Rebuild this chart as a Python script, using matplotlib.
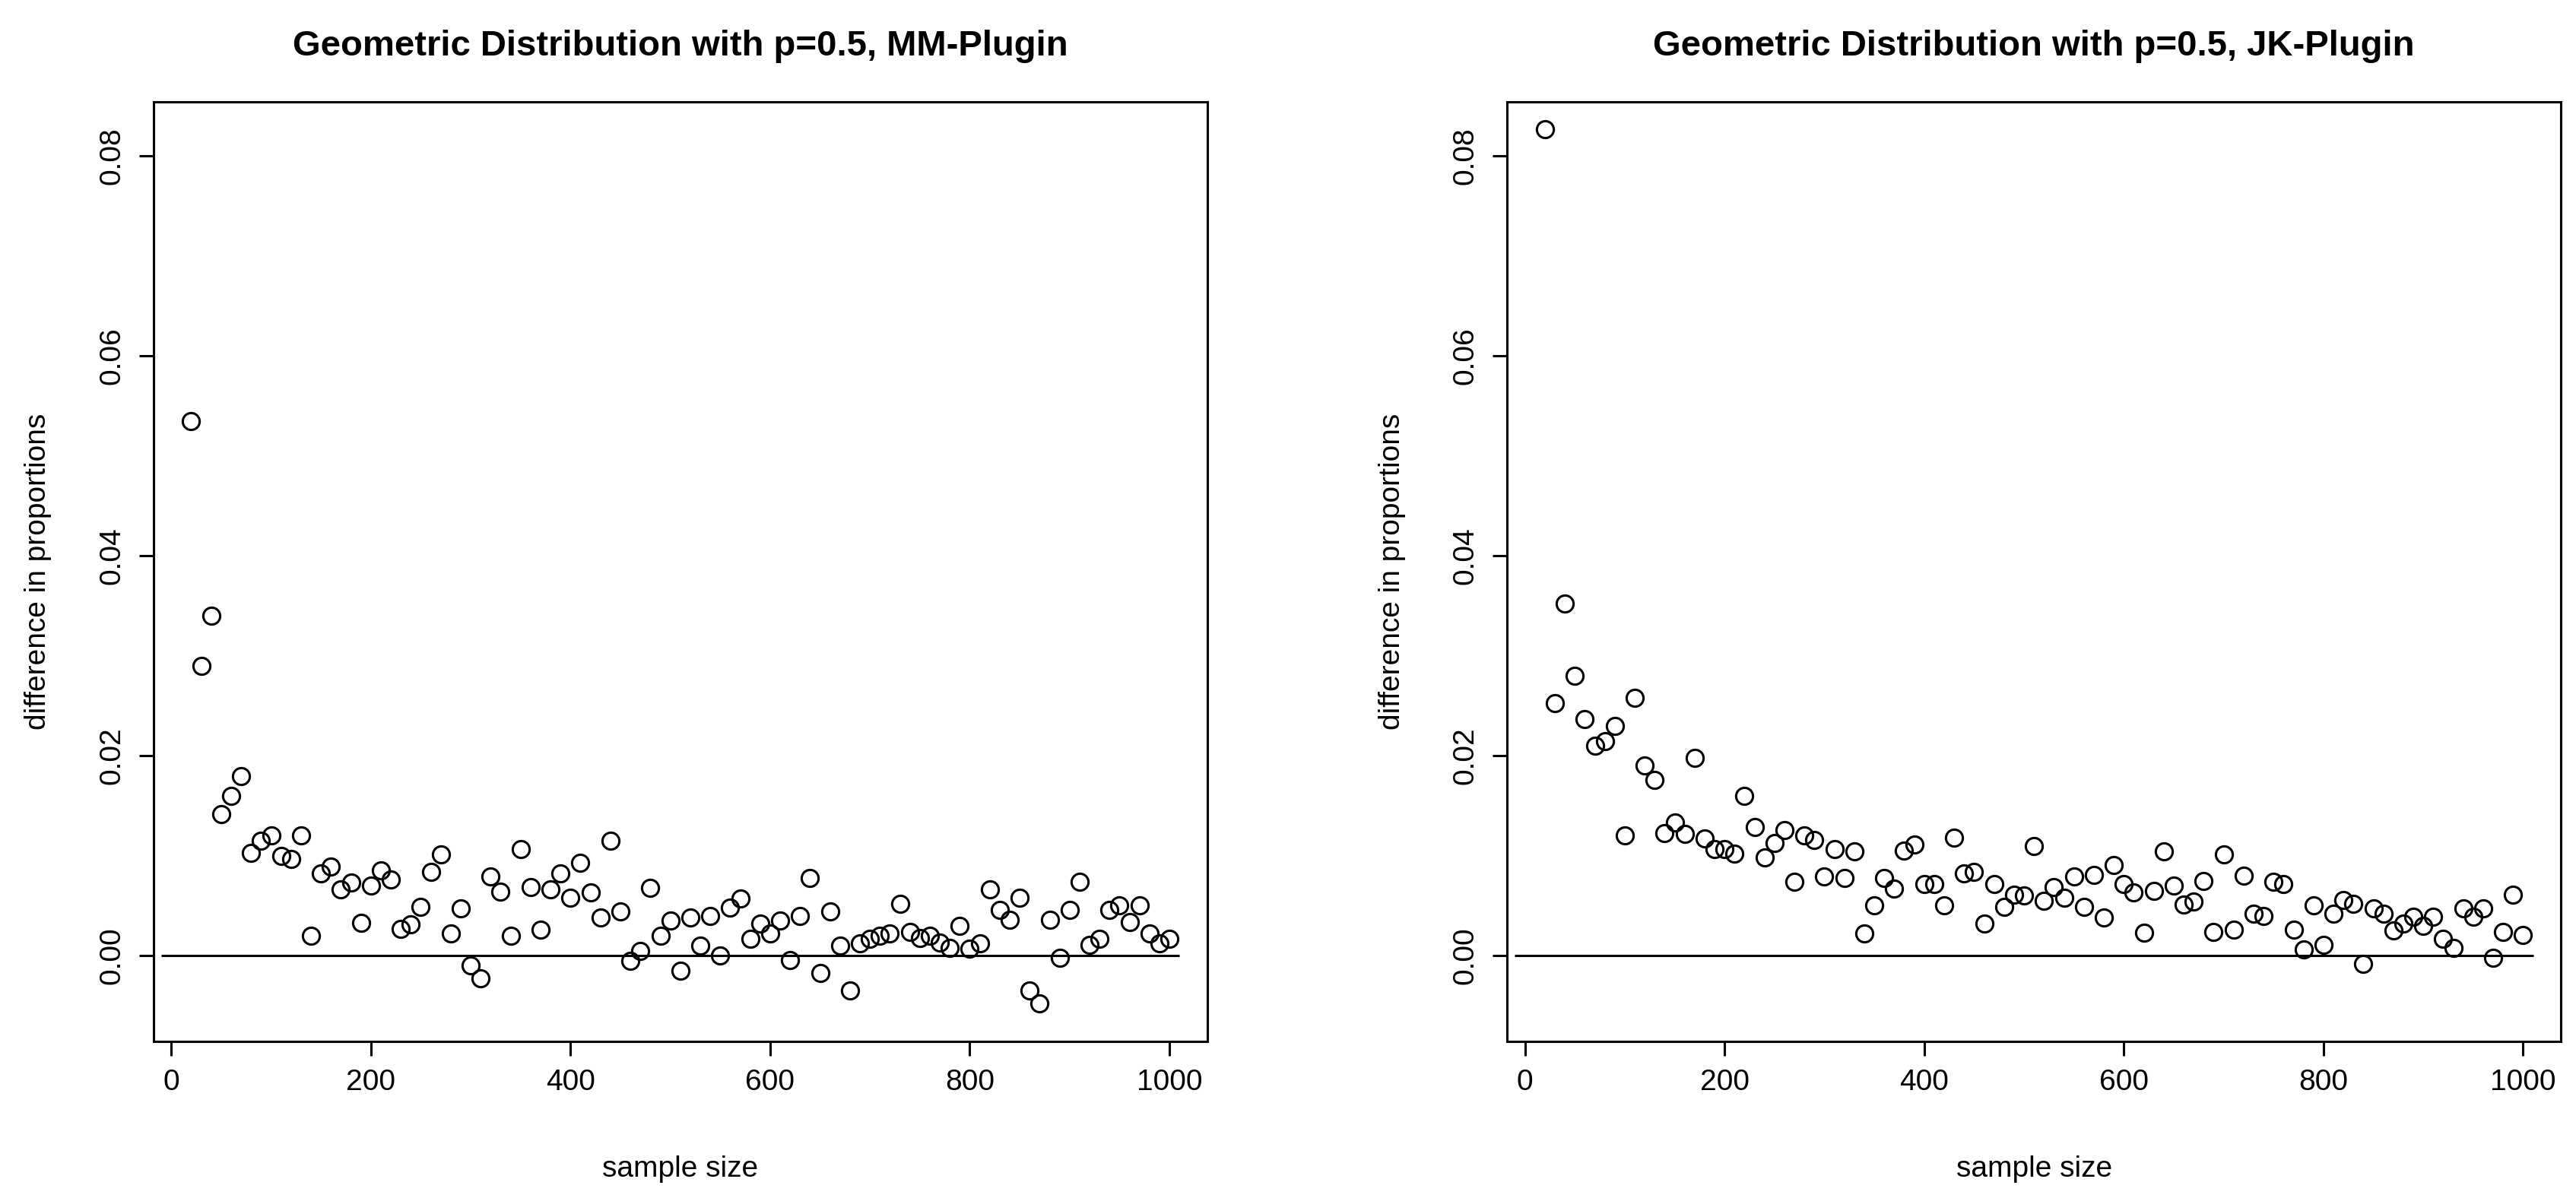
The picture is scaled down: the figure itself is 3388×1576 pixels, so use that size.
import numpy as np
import matplotlib.pyplot as plt

plt.rcParams['font.family'] = ['Liberation Sans', 'DejaVu Sans']

sample_size = list(range(20, 1001, 10))

mm_diff = [0.0535, 0.029, 0.034, 0.0142, 0.016, 0.018, 0.0103, 0.0115, 0.012, 0.0100,
           0.0097, 0.0120, 0.0020, 0.0082, 0.0089, 0.0066, 0.0073, 0.0033, 0.0070, 0.0085,
           0.0076, 0.0027, 0.0031, 0.0049, 0.0084, 0.0101, 0.0022, 0.0047, -0.0010, -0.0023,
           0.0079, 0.0064, 0.0020, 0.0107, 0.0069, 0.0026, 0.0066, 0.0082, 0.0058, 0.0093,
           0.0063, 0.0038, 0.0115, 0.0044, -0.0005, 0.0005, 0.0068, 0.0020, 0.0035, -0.0015,
           0.0038, 0.0010, 0.0040, 0.0000, 0.0048, 0.0057, 0.0017, 0.0032, 0.0022, 0.0035,
           -0.0004, 0.0040, 0.0078, -0.0017, 0.0044, 0.0010, -0.0035, 0.0012, 0.0017, 0.0020,
           0.0022, 0.0052, 0.0024, 0.0018, 0.0020, 0.0013, 0.0008, 0.0030, 0.0007, 0.0012,
           0.0066, 0.0046, 0.0036, 0.0058, -0.0035, -0.0048, 0.0036, -0.0002, 0.0046, 0.0074,
           0.0011, 0.0017, 0.0046, 0.0050, 0.0034, 0.0050, 0.0022, 0.0012, 0.0017]

jk_diff = [0.0827, 0.0253, 0.0352, 0.028, 0.0237, 0.021, 0.0215, 0.023, 0.0120, 0.0258,
           0.019, 0.0176, 0.0123, 0.0133, 0.0122, 0.0198, 0.0117, 0.0107, 0.0107, 0.0102,
           0.0160, 0.0129, 0.0098, 0.0113, 0.0126, 0.0074, 0.0120, 0.0116, 0.0079, 0.0107,
           0.0078, 0.0104, 0.0022, 0.0050, 0.0078, 0.0067, 0.0105, 0.0111, 0.0072, 0.0072,
           0.0050, 0.0118, 0.0082, 0.0084, 0.0032, 0.0072, 0.0049, 0.0061, 0.0060, 0.0110,
           0.0055, 0.0069, 0.0058, 0.0079, 0.0049, 0.0081, 0.0038, 0.0091, 0.0072, 0.0063,
           0.0023, 0.0065, 0.0104, 0.0070, 0.0051, 0.0054, 0.0075, 0.0024, 0.0101, 0.0026,
           0.0080, 0.0042, 0.0040, 0.0074, 0.0072, 0.0026, 0.0006, 0.0050, 0.0011, 0.0042,
           0.0056, 0.0052, -0.0008, 0.0047, 0.0042, 0.0025, 0.0032, 0.0039, 0.0030, 0.0039,
           0.0017, 0.0008, 0.0047, 0.0039, 0.0047, -0.0002, 0.0024, 0.0061, 0.0021]

titles = ["Geometric Distribution with p=0.5, MM-Plugin",
          "Geometric Distribution with p=0.5, JK-Plugin"]

fig = plt.figure(figsize=(16.94, 7.88), dpi=200)
ax1 = fig.add_axes([0.0595, 0.1305, 0.4092, 0.7843])
ax2 = fig.add_axes([0.585, 0.1305, 0.4092, 0.7843])

for ax, vals, title in zip([ax1, ax2], [mm_diff, jk_diff], titles):
    ax.plot(sample_size, vals, 'o', mfc='none', mec='black', ms=8, mew=1.1)
    ax.hlines(0, -10, 1010, color='black', lw=1.1)
    ax.set_xlim(-18, 1038)
    ax.set_ylim(-0.0086, 0.0854)
    ax.set_xticks([0, 200, 400, 600, 800, 1000])
    ax.set_yticks([0.00, 0.02, 0.04, 0.06, 0.08])
    ax.set_yticklabels(['0.00', '0.02', '0.04', '0.06', '0.08'], rotation=90, va='center')
    ax.tick_params(direction='out', length=7, width=1.1, labelsize=14, pad=6)
    for s in ax.spines.values():
        s.set_linewidth(1.1)
    ax.set_xlabel("sample size", fontsize=14, labelpad=28)
    ax.set_ylabel("difference in proportions", fontsize=14, labelpad=22)
    ax.set_title(title, fontsize=17, fontweight='bold', pad=22)

fig.savefig("out.png", dpi=200)
